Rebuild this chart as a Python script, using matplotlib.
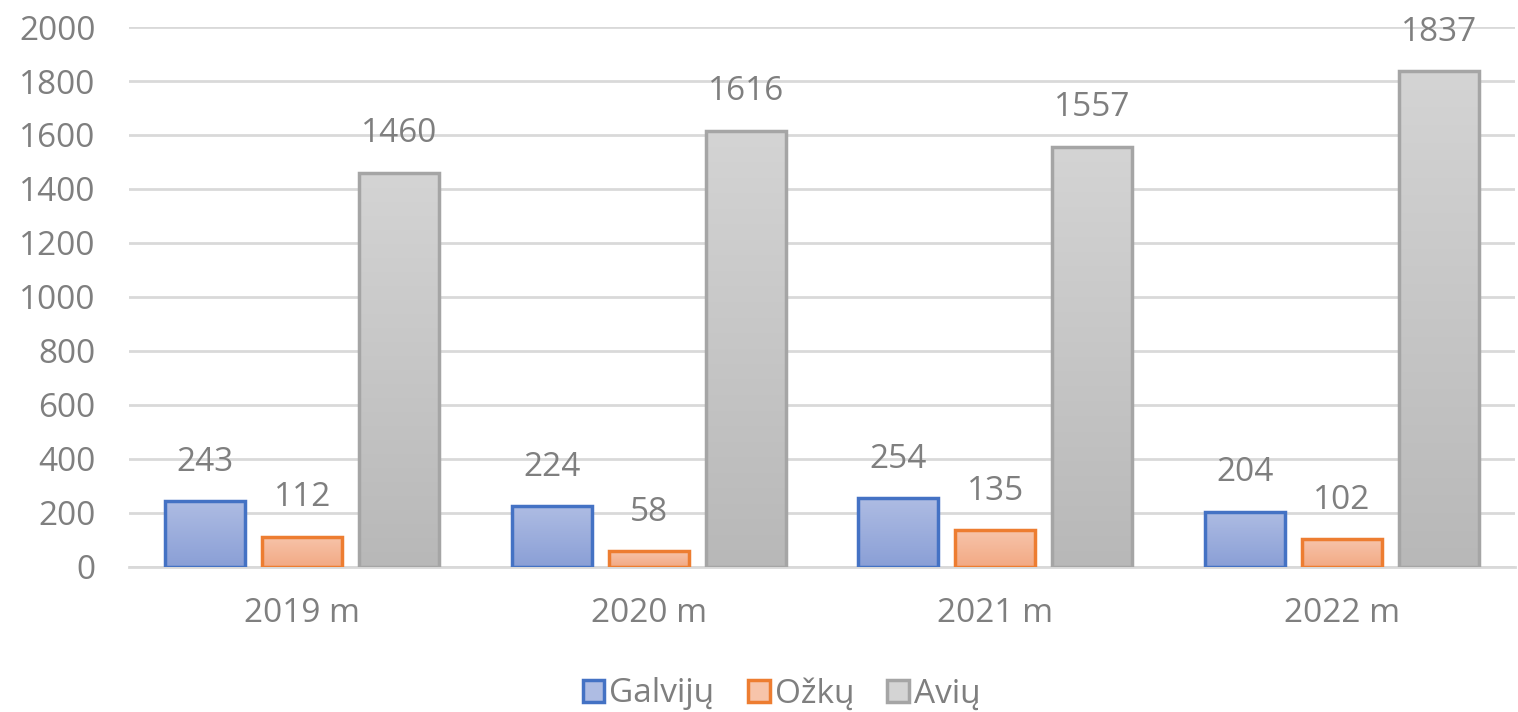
import numpy as np
import matplotlib.pyplot as plt
from matplotlib.patches import Patch
from matplotlib.colors import LinearSegmentedColormap

####################################
# Data
years = ["2019 m", "2020 m", "2021 m", "2022 m"]
series = ["Galvijų", "Ožkų", "Avių"]
galviju = [243, 224, 254, 204]
ozku = [112, 58, 135, 102]
aviu = [1460, 1616, 1557, 1837]

# style
edge_colors = ["#4472c4", "#ed7d31", "#a5a5a5"]
grad_top = ["#aebce3", "#f7c4aa", "#d4d4d4"]
grad_bot = ["#8a9fd6", "#f2a984", "#b8b8b8"]
text_col = "#7f7f7f"
grid_col = "#d9d9d9"
bar_w = 0.23
step = 0.28
fs = 24

plt.rcParams["font.family"] = ["Open Sans", "DejaVu Sans"]

fig = plt.figure(figsize=(15.18, 7.12), dpi=100)
ax = fig.add_axes([0.085, 0.204, 0.913, 0.758])

x = np.arange(len(years))
grad = np.linspace(0, 1, 256).reshape(-1, 1)
for i, vals in enumerate([galviju, ozku, aviu]):
    offs = (i - 1) * step
    bars = ax.bar(x + offs, vals, bar_w, facecolor="none",
                  edgecolor=edge_colors[i], linewidth=2.5, zorder=3)
    cmap = LinearSegmentedColormap.from_list("g%d" % i, [grad_bot[i], grad_top[i]])
    for b, v in zip(bars, vals):
        x0 = b.get_x()
        im = ax.imshow(grad, cmap=cmap, origin="lower", aspect="auto",
                       extent=[x0, x0 + bar_w, 0, v], zorder=2)
        im.set_clip_path(b)
        ax.annotate(str(v), (x0 + bar_w / 2, v), xytext=(0, 28),
                    textcoords="offset points", ha="center", va="center",
                    fontsize=fs, color=text_col)

ax.set_xlim(-0.5, len(years) - 0.5)
ax.set_ylim(0, 2000)
ax.set_yticks(range(0, 2001, 200))
ax.set_xticks(x)
ax.set_xticklabels(years)
ax.tick_params(axis="both", length=0, labelsize=fs, labelcolor=text_col)
ax.tick_params(axis="y", pad=24)
ax.tick_params(axis="x", pad=22)
ax.grid(axis="y", color=grid_col, linewidth=2, zorder=0)
ax.set_axisbelow(True)
for s in ["top", "right", "left"]:
    ax.spines[s].set_visible(False)
ax.spines["bottom"].set_color(grid_col)
ax.spines["bottom"].set_linewidth(2)

handles = [Patch(facecolor=grad_top[i], edgecolor=edge_colors[i], linewidth=2.5,
                 label=series[i]) for i in range(3)]
fig.legend(handles=handles, loc="lower center", bbox_to_anchor=(0.515, -0.04), ncol=3,
           frameon=False, fontsize=fs, labelcolor=text_col, handlelength=0.65,
           handleheight=0.65, handletextpad=0.15, columnspacing=1.0)

fig.savefig("out.png", dpi=100)
